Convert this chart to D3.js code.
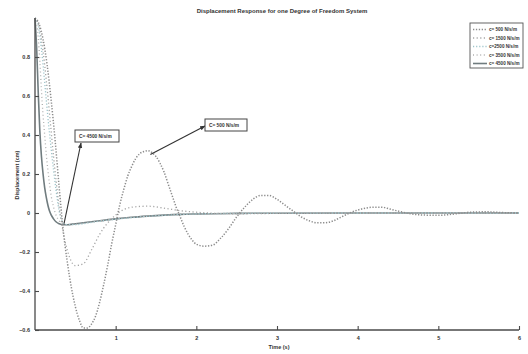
<!DOCTYPE html>
<html>
<head>
<meta charset="utf-8">
<script src="https://cdnjs.cloudflare.com/ajax/libs/d3/7.8.5/d3.min.js"></script>
<style>
  body { margin: 0; background: #fff; }
  svg { display: block; }
  text { font-family: "Liberation Sans", Arial, sans-serif; fill: #333; }
</style>
</head>
<body>
<div id="chart"></div>
<script>
// time samples (s) for the light-damping curves
const tA = [0, 0.05, 0.1, 0.15, 0.2, 0.25, 0.3, 0.35, 0.4, 0.45, 0.5, 0.55, 0.6, 0.65, 0.7, 0.75,
  0.8, 0.85, 0.9, 0.95, 1.0, 1.05, 1.1, 1.15, 1.2, 1.25, 1.3, 1.35, 1.4, 1.45, 1.5, 1.55, 1.6,
  1.65, 1.7, 1.75, 1.8, 1.85, 1.9, 1.95, 2.0, 2.1, 2.2, 2.3, 2.4, 2.5, 2.6, 2.7, 2.8, 2.9, 3.0,
  3.1, 3.2, 3.3, 3.4, 3.5, 3.6, 3.7, 3.8, 3.9, 4.0, 4.1, 4.2, 4.3, 4.4, 4.5, 4.6, 4.8, 5.0, 5.2,
  5.4, 5.6, 5.8, 6.0];
// time samples (s) for the heavier damping curves
const tB = [0, 0.02, 0.04, 0.06, 0.08, 0.1, 0.12, 0.14, 0.16, 0.18, 0.2, 0.23, 0.26, 0.3, 0.35,
  0.4, 0.5, 0.6, 0.7, 0.8, 1.0, 1.2, 1.4, 1.6, 1.8, 2.0, 2.5, 3, 4, 5, 6];

const c500 = [1.00, 0.97, 0.89, 0.76, 0.58, 0.37, 0.13, -0.09, -0.25, -0.38, -0.48, -0.55, -0.59,
  -0.59, -0.57, -0.53, -0.46, -0.37, -0.27, -0.16, -0.06, 0.04, 0.12, 0.19, 0.24, 0.28, 0.305,
  0.315, 0.32, 0.31, 0.29, 0.255, 0.21, 0.15, 0.09, 0.03, -0.02, -0.07, -0.11, -0.14, -0.16,
  -0.17, -0.165, -0.13, -0.08, -0.02, 0.03, 0.07, 0.09, 0.09, 0.07, 0.04, 0.01, -0.02, -0.04,
  -0.05, -0.05, -0.04, -0.02, 0.0, 0.015, 0.025, 0.03, 0.03, 0.02, 0.01, 0.0, -0.01, -0.012,
  -0.005, 0.004, 0.006, 0.002, 0.0];
const c1500 = [1.0, 0.99, 0.97, 0.94, 0.89, 0.83, 0.76, 0.68, 0.6, 0.51, 0.42, 0.29, 0.17, 0.03,
  -0.1, -0.19, -0.27, -0.26, -0.19, -0.11, -0.01, 0.03, 0.035, 0.025, 0.012, 0.004, -0.004,
  -0.002, 0, 0, 0];
const c2500 = [1.0, 0.99, 0.96, 0.91, 0.84, 0.76, 0.67, 0.58, 0.49, 0.41, 0.33, 0.22, 0.12, 0.01,
  -0.05, -0.06, -0.06, -0.055, -0.048, -0.042, -0.032, -0.024, -0.017, -0.012, -0.008, -0.005,
  -0.002, -0.001, 0, 0, 0];
const c3500 = [1.0, 0.97, 0.9, 0.78, 0.63, 0.5, 0.4, 0.3, 0.22, 0.15, 0.09, 0.03, -0.01, -0.04,
  -0.055, -0.06, -0.058, -0.052, -0.046, -0.04, -0.03, -0.022, -0.016, -0.011, -0.007, -0.005,
  -0.002, -0.001, 0, 0, 0];
const c4500 = [1.0, 0.85, 0.62, 0.42, 0.29, 0.2, 0.13, 0.08, 0.04, 0.01, -0.01, -0.03, -0.045,
  -0.055, -0.06, -0.06, -0.055, -0.05, -0.045, -0.04, -0.03, -0.022, -0.016, -0.011, -0.007,
  -0.005, -0.002, -0.001, 0, 0, 0];

const legendLabels = ['c= 500 N/s/m', 'c= 1500 N/s/m', 'c=2500 N/s/m', 'c= 3500 N/s/m', 'c= 4500 N/s/m'];
const xTicks = [1, 2, 3, 4, 5, 6];
const yTicks = [-0.6, -0.4, -0.2, 0, 0.2, 0.4, 0.6, 0.8];

const series = [
  { t: tA, v: c500, color: '#8c8c8c', dash: '1.3,1.6', w: 1.5 },
  { t: tB, v: c1500, color: '#a6a6a6', dash: '1.2,2.4', w: 1.3 },
  { t: tB, v: c2500, color: '#9fc6cc', dash: '1.2,1.9', w: 1.3 },
  { t: tB, v: c3500, color: '#b0b0b0', dash: '1,2.6', w: 1.3 },
  { t: tB, v: c4500, color: '#707c7f', dash: null, w: 1.6 }
];

const width = 528, height = 354;
const svg = d3.select('#chart').append('svg')
  .attr('width', width)
  .attr('height', height);

const x = d3.scaleLinear().domain([0, 6]).range([35, 519]);
const y = d3.scaleLinear().domain([-0.6, 1]).range([330, 18]);

// curves
const line = d3.line()
  .x(d => x(d[0]))
  .y(d => y(d[1]))
  .curve(d3.curveMonotoneX);

series.slice().reverse().forEach(s => {
  svg.append('path')
    .datum(s.t.map((t, i) => [t, s.v[i]]))
    .attr('d', line)
    .attr('fill', 'none')
    .attr('stroke', s.color)
    .attr('stroke-width', s.w)
    .attr('stroke-dasharray', s.dash);
});

// axes (left + bottom only, ticks pointing inward)
const xAxis = svg.append('g').attr('transform', 'translate(0,330)')
  .call(d3.axisBottom(x).tickValues(xTicks).tickSize(-4).tickPadding(6).tickFormat(d3.format('d')));
const yAxis = svg.append('g').attr('transform', 'translate(35,0)')
  .call(d3.axisLeft(y).tickValues(yTicks).tickSize(-4).tickPadding(5)
    .tickFormat(d => d === 0 ? '0' : d3.format('.1f')(d)));
[xAxis, yAxis].forEach(g => {
  g.select('.domain').attr('stroke', '#4a4a4a').attr('stroke-width', 1.3);
  g.selectAll('.tick line').attr('stroke', '#4a4a4a').attr('stroke-width', 1.1);
  g.selectAll('.tick text').attr('fill', '#555').style('font-size', '5.5px').style('font-weight', 'bold');
});
yAxis.select('.domain').attr('d', 'M0,' + y(1) + 'V' + y(-0.6));
xAxis.select('.domain').attr('d', 'M' + x(0) + ',0H' + x(6));

// titles
svg.append('text')
  .attr('x', 282).attr('y', 13)
  .attr('text-anchor', 'middle')
  .style('font-size', '6px').style('font-weight', 'bold')
  .text('Displacement Response for one Degree of Freedom System');
svg.append('text')
  .attr('x', 279).attr('y', 349)
  .attr('text-anchor', 'middle')
  .style('font-size', '5.5px').style('font-weight', 'bold')
  .text('Time (s)');
svg.append('text')
  .attr('transform', 'translate(19,175) rotate(-90)')
  .attr('text-anchor', 'middle')
  .style('font-size', '5.5px').style('font-weight', 'bold')
  .text('Displacement (cm)');

// legend
const lg = svg.append('g');
lg.append('rect')
  .attr('x', 470).attr('y', 23).attr('width', 53).attr('height', 45)
  .attr('fill', '#fff').attr('stroke', '#555').attr('stroke-width', 0.9);
legendLabels.forEach((lab, i) => {
  const ly = 29.5 + i * 8.5;
  lg.append('line')
    .attr('x1', 473).attr('x2', 487).attr('y1', ly).attr('y2', ly)
    .attr('stroke', series[i].color)
    .attr('stroke-width', series[i].w)
    .attr('stroke-dasharray', series[i].dash);
  lg.append('text')
    .attr('x', 489).attr('y', ly + 1.8)
    .style('font-size', '4.6px').style('font-weight', 'bold')
    .text(lab);
});

// annotations
function note(label, bx, by, bw, px, py, tx, ty) {
  svg.append('line')
    .attr('x1', px).attr('y1', py).attr('x2', tx).attr('y2', ty)
    .attr('stroke', '#333').attr('stroke-width', 1.1)
    .attr('marker-end', 'url(#arrow)');
  svg.append('rect')
    .attr('x', bx).attr('y', by).attr('width', bw).attr('height', 12)
    .attr('fill', '#fff').attr('stroke', '#444').attr('stroke-width', 1);
  svg.append('text')
    .attr('x', bx + 4).attr('y', by + 8)
    .style('font-size', '4.8px').style('font-weight', 'bold')
    .text(label);
}
svg.append('defs').append('marker')
  .attr('id', 'arrow')
  .attr('viewBox', '0 0 10 10')
  .attr('refX', 9).attr('refY', 5)
  .attr('markerWidth', 5).attr('markerHeight', 5)
  .attr('orient', 'auto')
  .append('path').attr('d', 'M0,1L10,5L0,9Z').attr('fill', '#333');

note('C= 4500 N/s/m', 75, 130, 44, x(0.36), y(-0.055), 81, 143);
note('C= 500 N/s/m', 205, 119, 42, x(1.43), y(0.3), 205, 126);
</script>
</body>
</html>
